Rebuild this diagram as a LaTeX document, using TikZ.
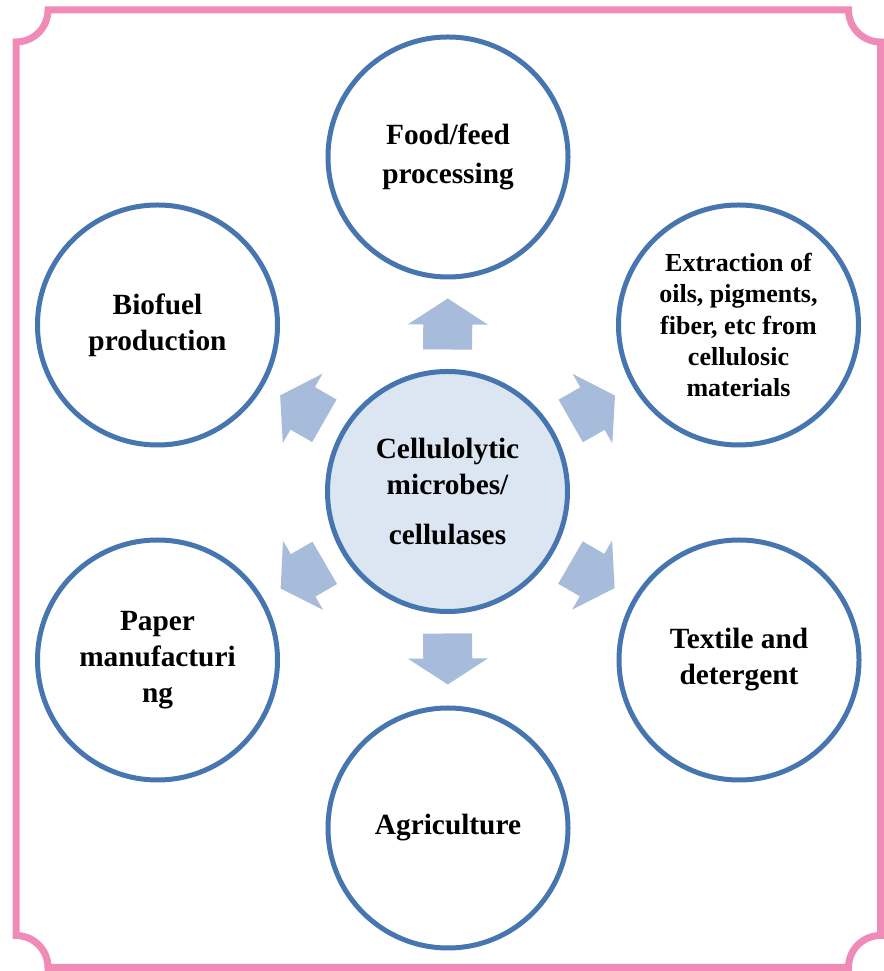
\documentclass[tikz,border=0pt]{standalone}
\usepackage{fontspec}
\setmainfont{Liberation Serif}
\usetikzlibrary{calc}

\definecolor{framepink}{RGB}{240,139,183}
\definecolor{ringblue}{RGB}{70,117,175}
\definecolor{arrowblue}{RGB}{167,187,219}
\definecolor{corefill}{RGB}{220,230,242}

\tikzset{
  ring/.style={circle, draw=ringblue, line width=3.75pt, minimum size=180pt,
    inner sep=0pt, align=center, text=black,
    font=\bfseries\fontsize{22}{27}\selectfont},
  core/.style={ring, fill=corefill},
  small/.style={font=\bfseries\fontsize{19.5}{23.5}\selectfont},
  blockarrow/.style={fill=arrowblue, draw=none},
  frame/.style={draw=framepink, line width=5.25pt}
}

\begin{document}
\begin{tikzpicture}[x=0.75pt, y=0.75pt]
  \useasboundingbox (0,0) rectangle (884,971);

  % outer frame with concave corners
  \draw[frame] (48,961) -- (848.5,961)
      arc[start angle=180, end angle=270, radius=32]
      -- (880.5,35.5)
      arc[start angle=90, end angle=180, radius=32]
      -- (48,3.5)
      arc[start angle=0, end angle=90, radius=32]
      -- (16,929)
      arc[start angle=270, end angle=360, radius=32] -- cycle;

  % hub and application areas
  \node[core] (c) at (447.5,479.5) {Cellulolytic\\microbes/\\[10pt]cellulases};
  \node[ring] (food)  at (448,814)   {Food/feed\\[2pt]processing};
  \node[ring] (bio)   at (157.5,646) {Biofuel\\production};
  \node[ring, small] (ext) at (738.5,646)
      {Extraction of\\oils, pigments,\\fiber, etc from\\cellulosic\\materials};
  \node[ring] (paper) at (157.5,311) {Paper\\manufacturi\\ng};
  \node[ring] (tex)   at (739,311)   {Textile and\\detergent};
  \node[ring] (agri)  at (448,143)   {Agriculture};

  % block arrows from the hub towards each area
  \foreach \t in {food,bio,ext,paper,tex,agri}{
    \fill[blockarrow]
      ($(c)!106.5pt!(\t)!18.375pt!90:(\t)$)
      -- ($(c)!125.25pt!(\t)!18.375pt!90:(\t)$)
      -- ($(c)!125.25pt!(\t)!30pt!90:(\t)$)
      -- ($(c)!144.75pt!(\t)$)
      -- ($(c)!125.25pt!(\t)!30pt!-90:(\t)$)
      -- ($(c)!125.25pt!(\t)!18.375pt!-90:(\t)$)
      -- ($(c)!106.5pt!(\t)!18.375pt!-90:(\t)$)
      -- cycle;
  }
\end{tikzpicture}
\end{document}
